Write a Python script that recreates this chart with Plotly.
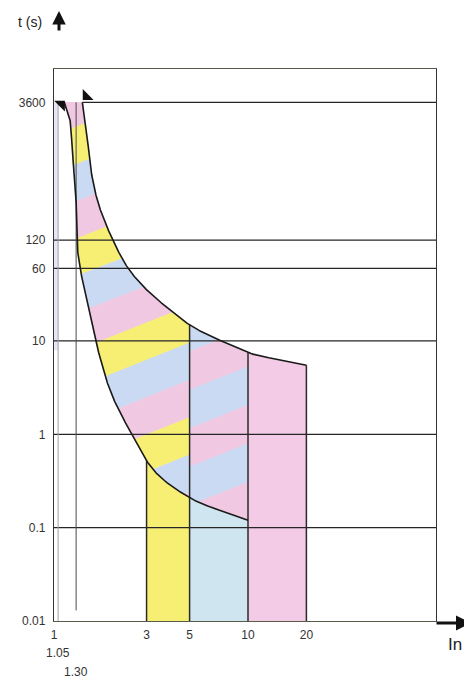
import numpy as np
import plotly.graph_objects as go

# ---------------- data ----------------
x_tick_vals = [1, 3, 5, 10, 20]
x_tick_text = ["1", "3", "5", "10", "20"]
y_tick_vals = [0.01, 0.1, 1, 10, 60, 120, 3600]
y_tick_text = ["0.01", "0.1", "1", "10", "60", "120", "3600"]
conv_currents = [1.05, 1.30]          # conventional currents marked below the axis
conv_labels = ["1.05", "1.30"]
band_edges = [3, 5, 10, 20]           # magnetic bands: 3-5, 5-10, 10-20
grid_times = [0.1, 1, 10, 60, 120]
t_max = 3600
t_min = 0.01

# minimum tripping time curve (left / lower)
lower_I = [1.13, 1.21, 1.25, 1.30, 1.31, 1.36, 1.48, 1.59, 1.67, 1.94, 2.56, 3.24, 5.21, 10.0]
lower_t = [3600, 2330, 870, 324, 121, 62, 27.5, 13.1, 8.6, 3.0, 0.94, 0.42, 0.2, 0.12]
# maximum tripping time curve (right / upper)
upper_I = [1.40, 1.47, 1.55, 1.67, 1.83, 2.04, 2.35, 2.81, 3.96, 5.21, 8.08, 10.2, 20.0]
upper_t = [3600, 1820, 680, 324, 189, 113, 65, 40.7, 21.5, 14.1, 9.1, 7.4, 5.5]

# ---------------- layout constants ----------------
OFF = 8                         # page body margin of the browser
SW, SH = 472, 680               # screen size
PL, PR, PT, PB = 54, 436, 69, 621   # plot area on screen
W, H = SW - OFF, SH - OFF
ML, MT = PL - OFF, PT - OFF
MR, MB = W - (PR - OFF), H - (PB - OFF)
PX = 194.0                      # pixels per decade (x)
PY = 93.35                      # pixels per decade (y)
plot_w = PR - PL
plot_h = PB - PT
xr = [0.0, plot_w / PX]
yr = [-2.0, -2.0 + plot_h / PY]

YELLOW = "#f6ef74"
BLUE = "#c9daf2"
PINK = "#f1c8e2"
CYAN = "#cfe6f0"
PINK_D = "#f3cbe7"
LAV = "#e8e6f6"
FONT = "Liberation Sans, Arial, sans-serif"


def to_px(lx, lt):
    return PL + PX * (lx - xr[0]), PB - PY * (lt - yr[0])


def from_px(xp, yp):
    return xr[0] + (xp - PL) / PX, yr[0] + (PB - yp) / PY


def paper_x(sx):
    return (sx - PL) / plot_w


def paper_y(sy):
    return (PB - sy) / plot_h


def pchip(x, y, xq):
    x = np.asarray(x, float)
    y = np.asarray(y, float)
    h = np.diff(x)
    d = np.diff(y) / h
    n = len(x)
    m = np.zeros(n)
    for i in range(1, n - 1):
        if d[i - 1] * d[i] > 0:
            w1 = 2 * h[i] + h[i - 1]
            w2 = h[i] + 2 * h[i - 1]
            m[i] = (w1 + w2) / (w1 / d[i - 1] + w2 / d[i])
    m[0], m[-1] = d[0], d[-1]
    idx = np.clip(np.searchsorted(x, xq) - 1, 0, n - 2)
    s = (xq - x[idx]) / h[idx]
    h00 = 2 * s**3 - 3 * s**2 + 1
    h10 = s**3 - 2 * s**2 + s
    h01 = -2 * s**3 + 3 * s**2
    h11 = s**3 - s**2
    return h00 * y[idx] + h10 * h[idx] * m[idx] + h01 * y[idx + 1] + h11 * h[idx] * m[idx + 1]


def dense_curve(I, t, n=500):
    lx = np.log10(I)
    lt = np.log10(t)
    s = -lt
    sq = np.linspace(s[0], s[-1], n)
    return pchip(s, lx, sq), -sq


Llx, Llt = dense_curve(lower_I, lower_t)
Ulx, Ult = dense_curve(upper_I, upper_t)
LT_MAX = np.log10(t_max)


def L_at(lx):
    return np.interp(lx, Llx, Llt)


def U_at(lx):
    return np.minimum(np.interp(lx, Ulx, Ult), LT_MAX)


fig = go.Figure()


def add_poly(lx, lt, color, lw=0.8):
    fig.add_trace(go.Scatter(x=10 ** np.asarray(lx), y=10 ** np.asarray(lt), mode="lines",
                             fill="toself", fillcolor=color,
                             line=dict(color=color, width=lw), hoverinfo="skip"))


def add_line(xs, ys, color, width):
    fig.add_trace(go.Scatter(x=xs, y=ys, mode="lines", line=dict(color=color, width=width),
                             hoverinfo="skip"))


# faint lavender strip between I=1 and 1.05 near the top
lt_strip = np.array([0.9, LT_MAX])
add_poly([0, np.log10(conv_currents[0]), np.log10(conv_currents[0]), 0],
         [lt_strip[0], lt_strip[0], lt_strip[1], lt_strip[1]], LAV, 0)

# solid bands below the curves
lt_bot = np.log10(t_min)
g = np.linspace(np.log10(band_edges[0]), np.log10(band_edges[1]), 80)
add_poly(np.r_[g, g[::-1]], np.r_[L_at(g), np.full(g.size, lt_bot)], YELLOW)
g = np.linspace(np.log10(band_edges[1]), np.log10(band_edges[2]), 80)
add_poly(np.r_[g, g[::-1]], np.r_[L_at(g), np.full(g.size, lt_bot)], CYAN)
g = np.linspace(np.log10(band_edges[2]), np.log10(band_edges[3]), 80)
add_poly(np.r_[g, g[::-1]], np.r_[U_at(g), np.full(g.size, lt_bot)], PINK_D)

# diagonal stripes between the two curves
SLOPE = 0.4


def stripes(lx_a, lx_b, c0, width, colors):
    lx = np.linspace(lx_a, lx_b, 700)
    xp, ytop = to_px(lx, U_at(lx))
    _, ybot = to_px(lx, L_at(lx))
    cmin = (ytop + SLOPE * xp).min()
    cmax = (ybot + SLOPE * xp).max()
    k0 = int(np.floor((cmin - c0) / width)) - 1
    k1 = int(np.ceil((cmax - c0) / width)) + 1
    for k in range(k0, k1 + 1):
        lo = c0 + k * width - SLOPE * xp
        hi = lo + width
        y1 = np.maximum(ytop, lo)
        y2 = np.minimum(ybot, hi)
        ok = y2 > y1
        if not ok.any():
            continue
        idx = np.where(ok)[0]
        splits = np.where(np.diff(idx) > 1)[0]
        for r in np.split(idx, splits + 1):
            if r.size < 2:
                continue
            px_ = np.r_[xp[r], xp[r][::-1]]
            py_ = np.r_[y1[r], y2[r][::-1]]
            plx, plt_ = from_px(px_, py_)
            add_poly(plx, plt_, colors[k % len(colors)], 0.9)


stripes(Llx[0], np.log10(band_edges[1]), 381.5, 112 / 3, [YELLOW, BLUE, PINK])
stripes(np.log10(band_edges[1]), np.log10(band_edges[2]), 427.5, 38.5, [PINK, BLUE])

# horizontal grid lines (drawn above fills)
x_right = 10 ** xr[1]
for tv in grid_times:
    add_line([1, x_right], [tv, tv], "#262626", 1.3)
add_line([upper_I[0], x_right], [t_max, t_max], "#262626", 1.3)

# conventional current verticals
add_line([conv_currents[0], conv_currents[0]], [t_min, t_max], "#a0a0a0", 1.0)
add_line([conv_currents[1], conv_currents[1]], [t_min * 1.3, t_max], "#4a4a4a", 1.0)

# band edge verticals
add_line([band_edges[0]] * 2, [t_min, 10 ** L_at(np.log10(band_edges[0]))], "#2a2a2a", 1.5)
for b in band_edges[1:]:
    add_line([b, b], [t_min, 10 ** U_at(np.log10(b))], "#2a2a2a", 1.5)

# curves
add_line(10 ** Llx, 10 ** Llt, "#1a1a1a", 1.6)
add_line(10 ** Ulx, 10 ** Ult, "#1a1a1a", 1.6)

# arrowheads at the top of the curves
ax_, ay_ = to_px(np.log10(lower_I[0]), np.log10(lower_t[0]))
mlx, mlt = from_px(ax_ - 3, ay_ + 2)
bx_, by_ = to_px(np.log10(upper_I[0]), np.log10(upper_t[0]))
mux, mut = from_px(bx_ + 4, by_ - 6)
fig.add_trace(go.Scatter(x=[10 ** mlx], y=[10 ** mlt], mode="markers",
                         marker=dict(symbol="triangle-ne", size=12, color="#111"), hoverinfo="skip"))
fig.add_trace(go.Scatter(x=[10 ** mux], y=[10 ** mut], mode="markers",
                         marker=dict(symbol="triangle-sw", size=12, color="#111"), hoverinfo="skip"))

annotations = []
# conventional current labels under the axis
for v, lab, sy in zip(conv_currents, conv_labels, [653, 672]):
    annotations.append(dict(x=np.log10(v), xref="x", y=paper_y(sy), yref="paper",
                            text=lab, showarrow=False, font=dict(size=12, color="#333", family=FONT),
                            xanchor="center", yanchor="middle"))
# axis title "t (s)" and the upward axis arrow
annotations.append(dict(x=paper_x(30), y=paper_y(22), xref="paper", yref="paper",
                        text="t (s)", showarrow=False, font=dict(size=14, color="#222", family=FONT),
                        xanchor="center", yanchor="middle"))
annotations.append(dict(x=paper_x(59), y=paper_y(11), xref="paper", yref="paper",
                        text="", showarrow=True, ax=0, ay=21, arrowhead=2, arrowsize=0.9,
                        arrowwidth=3, arrowcolor="#111"))
# x axis arrow and "In"
annotations.append(dict(x=paper_x(471), y=paper_y(623), xref="paper", yref="paper",
                        text="", showarrow=True, ax=-36, ay=0, arrowhead=2, arrowsize=1.0,
                        arrowwidth=3, arrowcolor="#111"))
annotations.append(dict(x=paper_x(446), y=paper_y(644), xref="paper", yref="paper",
                        text="In", showarrow=False, font=dict(size=17, color="#222", family=FONT),
                        xanchor="left", yanchor="middle"))

fig.update_layout(
    width=W, height=H, margin=dict(l=ML, r=MR, t=MT, b=MB),
    paper_bgcolor="white", plot_bgcolor="white", showlegend=False,
    font=dict(family=FONT, size=12, color="#222"),
    annotations=annotations,
    xaxis=dict(type="log", range=xr, tickvals=x_tick_vals, ticktext=x_tick_text,
               showgrid=False, zeroline=False, showline=True, linecolor="#5a5a48",
               linewidth=1.3, mirror=True, ticks="", ticklabelstandoff=2,
               tickfont=dict(size=12, color="#333", family=FONT), fixedrange=True),
    yaxis=dict(type="log", range=yr, tickvals=y_tick_vals, ticktext=y_tick_text,
               showgrid=False, zeroline=False, showline=True, linecolor="#333",
               linewidth=1.3, mirror=True, ticks="", ticklabelstandoff=5,
               tickfont=dict(size=12, color="#333", family=FONT), fixedrange=True),
)

fig.write_html("out.html")
